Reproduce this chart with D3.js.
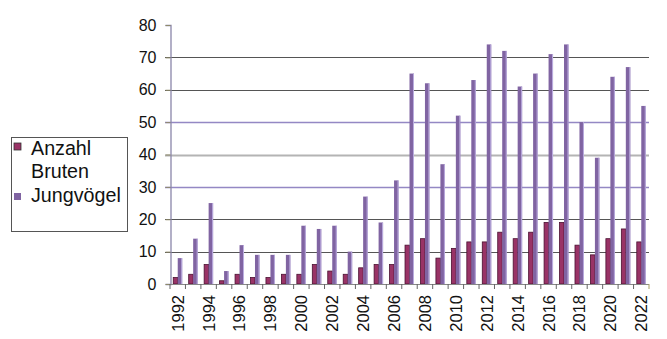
<!DOCTYPE html>
<html>
<head>
<meta charset="utf-8">
<script src="https://cdn.jsdelivr.net/npm/d3@7"></script>
<style>
  html, body { margin: 0; padding: 0; background: #fff; }
  svg { display: block; font-family: "Liberation Sans", Arial, sans-serif; }
</style>
</head>
<body>
<svg id="chart" width="667" height="339"></svg>
<script>
// Breeding records per year
const years = [1992,1993,1994,1995,1996,1997,1998,1999,2000,2001,2002,2003,2004,2005,2006,2007,
               2008,2009,2010,2011,2012,2013,2014,2015,2016,2017,2018,2019,2020,2021,2022];
const bruten = [2,3,6,1,3,2,2,3,3,6,4,3,5,6,6,12,14,8,11,13,13,16,14,16,19,19,12,9,14,17,13];
const jungvoegel = [8,14,25,4,12,9,9,9,18,17,18,10,27,19,32,65,62,37,52,63,74,72,61,65,71,74,50,39,64,67,55];
const yTicks = [0,10,20,30,40,50,60,70,80];
const seriesNames = ["Anzahl Bruten", "Jungvögel"];

const svg = d3.select("#chart");
const plotL = 170, plotR = 649, plotT = 25, plotB = 284;

const x = d3.scaleBand().domain(years).range([plotL, plotR]).padding(0);
const y = d3.scaleLinear().domain([0, 80]).range([plotB, plotT]);

// horizontal gridlines, styled per level
const gridStyle = {
  10: ["#555", 1.2], 20: ["#555", 1.2], 30: ["#9488c4", 1.4], 40: ["#b4b4b4", 2.2],
  50: ["#9488c4", 1.4], 60: ["#555", 1.2], 70: ["#555", 1.2]
};
svg.append("g").selectAll("line")
  .data(yTicks.filter(d => gridStyle[d]))
  .join("line")
  .attr("x1", plotL - 5).attr("x2", plotR)
  .attr("y1", d => Math.round(y(d)) + 0.5).attr("y2", d => Math.round(y(d)) + 0.5)
  .attr("stroke", d => gridStyle[d][0])
  .attr("stroke-width", d => gridStyle[d][1]);

// y axis
const yAxis = d3.axisLeft(y).tickValues(yTicks).tickSize(5).tickPadding(9);
const gy = svg.append("g").attr("transform", `translate(${plotL + 0.5},0)`).call(yAxis);
gy.select(".domain").attr("stroke", "#8a86aa").attr("stroke-width", 1.3);
gy.selectAll(".tick line").attr("stroke", "#8e8a6a");
gy.selectAll(".tick text").attr("font-size", 16).attr("fill", "#111")
  .attr("font-family", "Liberation Sans, Arial, sans-serif");

// bars
const bw = x.bandwidth() * 0.29;
const cx = d => x(d) + x.bandwidth() / 2;

const gb = svg.append("g");
gb.selectAll("rect.b").data(years).join("rect")
  .attr("class", "b")
  .attr("x", (d) => cx(d) - bw)
  .attr("width", bw)
  .attr("y", (d, i) => y(bruten[i]))
  .attr("height", (d, i) => plotB - y(bruten[i]))
  .attr("fill", "#993366")
  .attr("stroke", "#4a1030").attr("stroke-width", 0.8);

gb.selectAll("rect.j").data(years).join("rect")
  .attr("class", "j")
  .attr("x", d => cx(d))
  .attr("width", bw)
  .attr("y", (d, i) => y(jungvoegel[i]))
  .attr("height", (d, i) => plotB - y(jungvoegel[i]))
  .attr("fill", "#8064a2");
// light edge on the right side of the purple bars
gb.selectAll("line.jh").data(years).join("line")
  .attr("class", "jh")
  .attr("x1", d => cx(d) + bw - 0.5).attr("x2", d => cx(d) + bw - 0.5)
  .attr("y1", (d, i) => y(jungvoegel[i]))
  .attr("y2", plotB)
  .attr("stroke", "#bcaee0").attr("stroke-width", 1);

// x axis
const gx = svg.append("g").attr("transform", `translate(0,${plotB})`);
gx.append("line").attr("x1", plotL).attr("x2", plotR).attr("y1", 0.5).attr("y2", 0.5)
  .attr("stroke", "#888").attr("stroke-width", 1.2);
gx.selectAll("line.t").data(years.concat(["end"])).join("line")
  .attr("class", "t")
  .attr("x1", d => d === "end" ? plotR : x(d)).attr("x2", d => d === "end" ? plotR : x(d))
  .attr("y1", 0).attr("y2", 5)
  .attr("stroke", d => d === "end" ? "#a8a060" : "#666");
gx.selectAll("text").data(years.filter(d => d % 2 === 0)).join("text")
  .attr("transform", d => `translate(${cx(d)},11) rotate(-90)`)
  .attr("dy", "0.36em")
  .attr("text-anchor", "end")
  .attr("font-size", 16.5)
  .attr("fill", "#111")
  .text(d => d);

// legend
const lg = svg.append("g");
lg.append("rect").attr("x", 11.5).attr("y", 137.5).attr("width", 116).attr("height", 94)
  .attr("fill", "#fff").attr("stroke", "#555").attr("stroke-width", 1);
lg.append("rect").attr("x", 14).attr("y", 143).attr("width", 7).attr("height", 7)
  .attr("fill", "#993366").attr("stroke", "#333").attr("stroke-width", 0.8);
lg.append("rect").attr("x", 14).attr("y", 193).attr("width", 7).attr("height", 7)
  .attr("fill", "#8064a2");
const lt = lg.append("text").attr("font-size", 19.7).attr("fill", "#111");
lt.append("tspan").attr("x", 31).attr("y", 155).text(seriesNames[0].split(" ")[0]);
lt.append("tspan").attr("x", 31).attr("y", 178).text(seriesNames[0].split(" ")[1]);
lg.append("text").attr("font-size", 19.7).attr("fill", "#111")
  .attr("x", 31).attr("y", 202).text(seriesNames[1]);
</script>
</body>
</html>
